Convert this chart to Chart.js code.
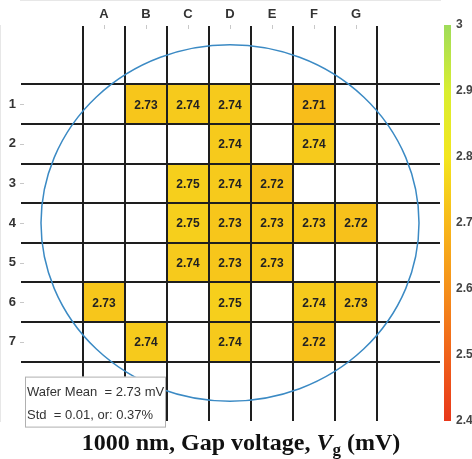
<!DOCTYPE html>
<html>
<head>
<meta charset="utf-8">
<script src="https://cdn.jsdelivr.net/npm/chart.js@4.4.1/dist/chart.umd.min.js"></script>
<style>
html,body{margin:0;padding:0;background:#fff}
#wrap{width:472px;height:459px}
</style>
</head>
<body>
<div id="wrap"><canvas id="chart" width="472" height="459"></canvas></div>
<script>
const colLabels=["A","B","C","D","E","F","G"]
const rowLabels=["1","2","3","4","5","6","7"]

// measured dies: column (1=A), row (1..7), value in mV
const cellCols=[2,3,4,6, 4,6, 3,4,5, 3,4,5,6,7, 3,4,5, 1,4,6,7, 2,4,6]
const cellRows=[1,1,1,1, 2,2, 3,3,3, 4,4,4,4,4, 5,5,5, 6,6,6,6, 7,7,7]
const cellVals=[2.73,2.74,2.74,2.71, 2.74,2.74, 2.75,2.74,2.72, 2.75,2.73,2.73,2.73,2.72, 2.74,2.73,2.73, 2.73,2.75,2.74,2.73, 2.74,2.74,2.72]

const cbTicks=[2.4,2.5,2.6,2.7,2.8,2.9,3]
const cmapVals=[2.4,2.5,2.6,2.7,2.8,2.9,3]
const cmapColors=["#e8381a","#f0621a","#f5901a","#f8b81a","#f3e61e","#d9ee30","#9fdc5a"]

const waferMean=2.73
const waferStd=0.01
const waferPct=0.37
const waferCenter=4
const waferRadius=4.5

const FONT='"Liberation Sans", Arial, sans-serif'
const SERIF='"Liberation Serif", "Times New Roman", serif'

function hexToRgb(h){
return [parseInt(h.slice(1,3),16),parseInt(h.slice(3,5),16),parseInt(h.slice(5,7),16)]
}

function cmap(v){
if(v<=cmapVals[0]) return cmapColors[0]
for(let i=1;i<cmapVals.length;i++){
if(v<=cmapVals[i]){
const t=(v-cmapVals[i-1])/(cmapVals[i]-cmapVals[i-1])
const a=hexToRgb(cmapColors[i-1]),b=hexToRgb(cmapColors[i])
const c=a.map((x,k)=>Math.round(x+(b[k]-x)*t))
return `rgb(${c[0]},${c[1]},${c[2]})`
}
}
return cmapColors[cmapColors.length-1]
}


/* PLUGIN: cells, wafer circle, colorbar, stats box, title */

const waferPlugin={
id:"wafer",

beforeDatasetsDraw(chart){
const {ctx,scales:{x,y}}=chart
ctx.save()
chart.data.datasets[0].data.forEach(raw=>{
const x0=x.getPixelForValue(raw.x-0.5),x1=x.getPixelForValue(raw.x+0.5)
const y0=y.getPixelForValue(raw.y-0.5),y1=y.getPixelForValue(raw.y+0.5)
ctx.fillStyle=cmap(raw.v)
ctx.fillRect(x0,y0,x1-x0,y1-y0)
})
ctx.restore()
},

afterDraw(chart){
const {ctx,chartArea,scales:{x,y,cb}}=chart

// small ticks at label positions
ctx.save()
ctx.strokeStyle="#c8c8c8"
ctx.lineWidth=1
colLabels.forEach((_,i)=>{
const px=Math.round(x.getPixelForValue(i+1))+0.5
ctx.beginPath();ctx.moveTo(px,chartArea.top);ctx.lineTo(px,chartArea.top+4);ctx.stroke()
})
rowLabels.forEach((_,i)=>{
const py=Math.round(y.getPixelForValue(i+1))+0.5
ctx.beginPath();ctx.moveTo(chartArea.left,py);ctx.lineTo(chartArea.left+4,py);ctx.stroke()
})
ctx.restore()

// wafer outline
ctx.save()
const cx=x.getPixelForValue(waferCenter),cy=y.getPixelForValue(waferCenter)
const rx=Math.abs(x.getPixelForValue(waferCenter+waferRadius)-cx)
const ry=Math.abs(y.getPixelForValue(waferCenter+waferRadius)-cy)
ctx.strokeStyle="#3b8ac4"
ctx.lineWidth=1.5
ctx.beginPath()
ctx.ellipse(cx,cy,rx,ry,0,0,Math.PI*2)
ctx.stroke()
ctx.restore()

// values
ctx.save()
ctx.font="bold 12px "+FONT
ctx.fillStyle="#222"
ctx.textAlign="center"
ctx.textBaseline="middle"
chart.data.datasets[0].data.forEach(d=>{
ctx.fillText(d.v.toFixed(2),x.getPixelForValue(d.x),y.getPixelForValue(d.y)+1)
})
ctx.restore()

// colorbar
ctx.save()
const bx=chartArea.right+4
const top=cb.getPixelForValue(cbTicks[cbTicks.length-1])
const bot=cb.getPixelForValue(cbTicks[0])
const g=ctx.createLinearGradient(0,bot,0,top)
cmapVals.forEach((v,i)=>g.addColorStop((v-cmapVals[0])/(cmapVals[cmapVals.length-1]-cmapVals[0]),cmapColors[i]))
ctx.fillStyle=g
ctx.fillRect(bx,top,7,bot-top)
ctx.restore()

// stats box
ctx.save()
const lx=chartArea.left+5
const ly=y.getPixelForValue(7.5)+15
ctx.fillStyle="#fff"
ctx.fillRect(lx,ly,140,50)
ctx.strokeStyle="#b0b0b0"
ctx.lineWidth=1
ctx.strokeRect(lx+0.5,ly+0.5,140,50)
ctx.font="13px "+FONT
ctx.fillStyle="#333"
ctx.textBaseline="middle"
ctx.fillText(`Wafer Mean  = ${waferMean.toFixed(2)} mV`,lx+2,ly+16)
ctx.fillText(`Std  = ${waferStd.toFixed(2)}, or: ${waferPct.toFixed(2)}%`,lx+2,ly+39)
ctx.restore()

// title
ctx.save()
const parts=[
{t:"1000 nm, Gap voltage, ",f:"bold 24px "+SERIF,dy:0},
{t:"V",f:"italic bold 24px "+SERIF,dy:0},
{t:"g",f:"bold 17px "+SERIF,dy:5},
{t:" (mV)",f:"bold 24px "+SERIF,dy:0}
]
let w=0
parts.forEach(p=>{ctx.font=p.f;p.w=ctx.measureText(p.t).width;w+=p.w})
let tx=241-w/2
ctx.fillStyle="#111"
ctx.textBaseline="alphabetic"
parts.forEach(p=>{ctx.font=p.f;ctx.fillText(p.t,tx,450+p.dy);tx+=p.w})
ctx.restore()
}
}


/* CHART */

const gridOpts={offset:true,color:"#1e1e1e",lineWidth:2,drawTicks:false,z:1}

new Chart(document.getElementById("chart"),{
type:"scatter",
data:{
datasets:[{
data:cellVals.map((v,i)=>({x:cellCols[i],y:cellRows[i],v:v})),
pointRadius:0
}]
},
options:{
responsive:false,
animation:false,
layout:{padding:{bottom:38}},
plugins:{legend:{display:false},tooltip:{enabled:false}},
scales:{
x:{
type:"linear",position:"top",min:-1,max:9,
afterBuildTicks:s=>{s.ticks=colLabels.map((_,i)=>({value:i+1}))},
afterFit:s=>{s.height=25},
ticks:{callback:v=>colLabels[v-1],color:"#333",font:{family:FONT,size:13,weight:"bold"},padding:3,maxRotation:0},
grid:gridOpts,
border:{color:"#cfcfcf"}
},
y:{
type:"linear",position:"left",reverse:true,min:-1,max:9,
afterBuildTicks:s=>{s.ticks=rowLabels.map((_,i)=>({value:i+1}))},
afterFit:s=>{s.width=20},
ticks:{callback:v=>rowLabels[v-1],color:"#333",font:{family:FONT,size:13,weight:"bold"},padding:4},
grid:gridOpts,
border:{color:"#cfcfcf"}
},
cb:{
type:"linear",position:"right",min:cbTicks[0],max:cbTicks[cbTicks.length-1],
afterBuildTicks:s=>{s.ticks=cbTicks.map(v=>({value:v}))},
afterFit:s=>{s.width=32},
ticks:{callback:v=>String(Math.round(v*10)/10),color:"#444",font:{family:FONT,size:12,weight:"bold"},padding:16},
grid:{display:false,drawTicks:false},
border:{display:false}
}
}
},
plugins:[waferPlugin]
})
</script>
</body>
</html>
